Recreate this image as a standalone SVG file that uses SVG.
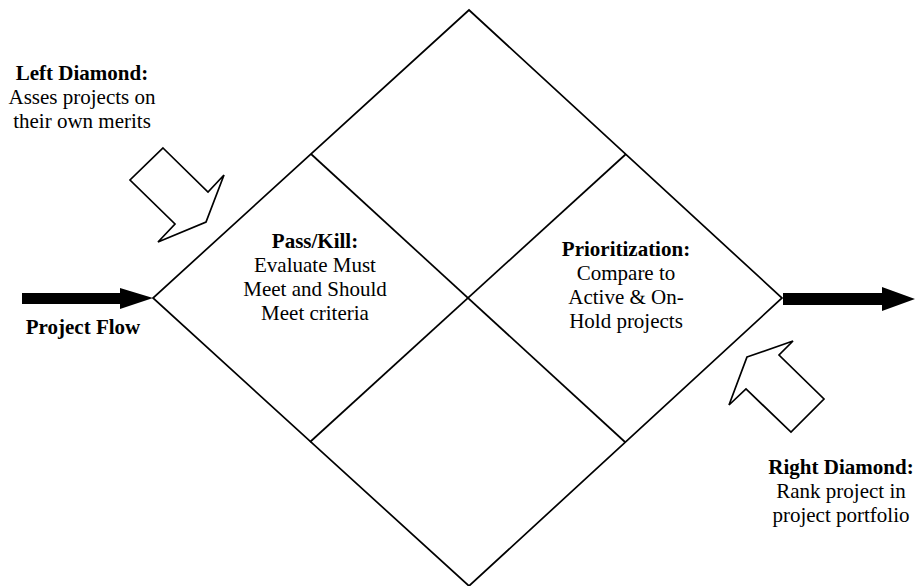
<svg xmlns="http://www.w3.org/2000/svg" width="916" height="586" viewBox="0 0 916 586">
  <style>
    .outline { fill: none; stroke: #000; stroke-width: 1.7; stroke-linejoin: miter; }
    .block { fill: #fff; stroke: #000; stroke-width: 1.7; stroke-linejoin: miter; }
    .flow { fill: #000; stroke: none; }
    text { font-family: "Liberation Serif", serif; font-size: 21px; fill: #000; text-anchor: middle; }
    .b { font-weight: bold; }
  </style>
  <rect width="916" height="586" fill="#fff"/>

  <!-- main diamond split into four quadrants -->
  <g id="diamond">
    <polygon class="outline" points="469,10 782,298 469,586 153,298"/>
    <line class="outline" x1="311" y1="154" x2="625" y2="442"/>
    <line class="outline" x1="310" y1="442" x2="626" y2="154"/>
  </g>

  <g id="connectors">
    <!-- incoming project flow -->
    <polygon class="flow" points="22,293 120,293 120,288 153,298 120,309 120,304 22,304"/>
    <!-- outgoing project flow -->
    <polygon class="flow" points="783,293 882,293 882,287 915,299 882,311 882,305 783,305"/>
    <!-- block arrow into the left diamond -->
    <polygon class="block" points="163,148 208,192 224,175 206,222 158,242 175,224 130,180"/>
    <!-- block arrow into the right diamond -->
    <polygon class="block" points="747,357 793,341 779,355 824,399 791,432 746,389 729,405"/>
  </g>

  <g id="left-note">
    <text x="82" y="80" class="b">Left Diamond:</text>
    <text x="82" y="104">Asses projects on</text>
    <text x="82" y="128">their own merits</text>
  </g>

  <g id="flow-label">
    <text x="83" y="334" class="b">Project Flow</text>
  </g>

  <g id="pass-kill">
    <text x="315" y="248" class="b">Pass/Kill:</text>
    <text x="315" y="272">Evaluate Must</text>
    <text x="315" y="296">Meet and Should</text>
    <text x="315" y="320">Meet criteria</text>
  </g>

  <g id="prioritization">
    <text x="626" y="256" class="b">Prioritization:</text>
    <text x="626" y="280">Compare to</text>
    <text x="626" y="304">Active &amp; On-</text>
    <text x="626" y="328">Hold projects</text>
  </g>

  <g id="right-note">
    <text x="841" y="474" class="b">Right Diamond:</text>
    <text x="841" y="498">Rank project in</text>
    <text x="841" y="522">project portfolio</text>
  </g>
</svg>
